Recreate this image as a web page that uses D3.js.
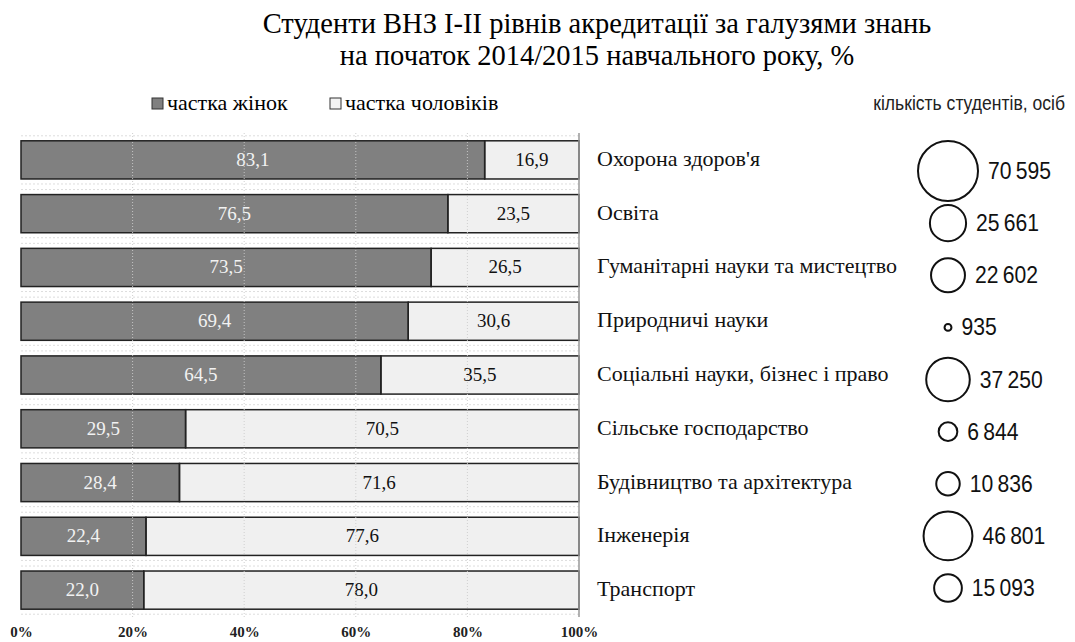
<!DOCTYPE html>
<html>
<head>
<meta charset="utf-8">
<script src="https://cdn.jsdelivr.net/npm/d3@7"></script>
<style>
  body { margin: 0; background: #fff; }
  .serif { font-family: "Liberation Serif", "Times New Roman", serif; }
  .narrow { font-family: "Liberation Sans", Arial, sans-serif; }
</style>
</head>
<body>
<script>
var categories = ["Охорона здоров'я", "Освіта", "Гуманітарні науки та мистецтво",
  "Природничі науки", "Соціальні науки, бізнес і право", "Сільське господарство",
  "Будівництво та архітектура", "Інженерія", "Транспорт"];
var women = [83.1, 76.5, 73.5, 69.4, 64.5, 29.5, 28.4, 22.4, 22.0];
var men = [16.9, 23.5, 26.5, 30.6, 35.5, 70.5, 71.6, 77.6, 78.0];
var students = [70595, 25661, 22602, 935, 37250, 6844, 10836, 46801, 15093];
var ticks = [0, 20, 40, 60, 80, 100];
var titleLines = ["Студенти ВНЗ І-ІІ рівнів акредитації за галузями знань",
  "на початок 2014/2015 навчального року, %"];

var W = 1075, H = 642;
var svg = d3.select("body").append("svg").attr("width", W).attr("height", H);

var x = d3.scaleLinear().domain([0, 100]).range([21, 579]);
var y = d3.scaleBand().domain(categories).range([133, 617]).paddingInner(0.29).paddingOuter(0.145);
// circles sit on their own slightly shifted grid
var yc = d3.scalePoint().domain(categories).range([171, 588]);
var r = d3.scaleSqrt().domain([0, 70595]).range([0, 30]);

var fmt = function(v) { return v.toFixed(1).replace(".", ","); };
var fmtN = function(v) { return d3.format(",")(v).replace(/,/g, "\u2009"); };

// title
svg.selectAll(".title").data(titleLines).enter().append("text")
  .attr("class", "serif")
  .attr("x", 597).attr("y", function(d, i) { return 33 + i * 32; })
  .attr("text-anchor", "middle")
  .style("font-size", "28.5px")
  .text(function(d) { return d; });

// legend
var legend = [{label: "частка жінок", fill: "#808080", x: 152}, {label: "частка чоловіків", fill: "#f2f2f2", x: 330}];
var lg = svg.selectAll(".lg").data(legend).enter().append("g");
lg.append("rect").attr("x", function(d) { return d.x; }).attr("y", 98)
  .attr("width", 11).attr("height", 11)
  .attr("fill", function(d) { return d.fill; }).attr("stroke", "#333").attr("stroke-width", 1);
lg.append("text").attr("class", "serif")
  .attr("x", function(d) { return d.x + 15; }).attr("y", 110)
  .style("font-size", "22px")
  .text(function(d) { return d.label; });

svg.append("g").attr("transform", "translate(1065,110) scale(0.9,1)")
  .append("text").attr("class", "narrow")
  .attr("text-anchor", "end")
  .style("font-size", "19.5px").attr("fill", "#222")
  .text("кількість студентів, осіб");

// horizontal light dashed lines at band edges
var plot = svg.append("g");
categories.forEach(function(c) {
  [y(c) - 5, y(c) + y.bandwidth() + 5].forEach(function(yy) {
    plot.append("line").attr("x1", x(0)).attr("x2", x(100)).attr("y1", yy).attr("y2", yy)
      .attr("stroke", "#ddd").attr("stroke-dasharray", "2,2");
  });
});

// bars
var rows = categories.map(function(c, i) { return {cat: c, w: women[i], m: men[i], n: students[i]}; });
var bar = plot.selectAll(".bar").data(rows).enter().append("g");
bar.append("rect")
  .attr("x", x(0)).attr("y", function(d) { return y(d.cat); })
  .attr("width", function(d) { return x(d.w) - x(0); }).attr("height", y.bandwidth())
  .attr("fill", "#808080");
bar.append("rect")
  .attr("x", function(d) { return x(d.w); }).attr("y", function(d) { return y(d.cat); })
  .attr("width", function(d) { return x(100) - x(d.w); }).attr("height", y.bandwidth())
  .attr("fill", "#f0f0f0");

// vertical gridlines
ticks.slice(1, -1).forEach(function(t) {
  plot.append("line").attr("x1", x(t)).attr("x2", x(t)).attr("y1", 133).attr("y2", 617)
    .attr("stroke", "#ccc").attr("stroke-dasharray", "1,2").attr("opacity", 0.9);
});
plot.append("line").attr("x1", x(100)).attr("x2", x(100)).attr("y1", 133).attr("y2", 617)
  .attr("stroke", "#999").attr("stroke-width", 1.5);

// bar outlines
bar.append("rect")
  .attr("x", x(0)).attr("y", function(d) { return y(d.cat); })
  .attr("width", function(d) { return x(d.w) - x(0); }).attr("height", y.bandwidth())
  .attr("fill", "none").attr("stroke", "#222").attr("stroke-width", 1.5);
bar.append("rect")
  .attr("x", function(d) { return x(d.w); }).attr("y", function(d) { return y(d.cat); })
  .attr("width", function(d) { return x(100) - x(d.w); }).attr("height", y.bandwidth())
  .attr("fill", "none").attr("stroke", "#222").attr("stroke-width", 1.5);

// bar value labels
bar.append("text").attr("class", "serif")
  .attr("x", function(d) { return (x(0) + x(d.w)) / 2; })
  .attr("y", function(d) { return y(d.cat) + y.bandwidth() / 2 + 6; })
  .attr("text-anchor", "middle").style("font-size", "19px").attr("fill", "#f2f2f2")
  .text(function(d) { return fmt(d.w); });
bar.append("text").attr("class", "serif")
  .attr("x", function(d) { return (x(d.w) + x(100)) / 2; })
  .attr("y", function(d) { return y(d.cat) + y.bandwidth() / 2 + 6; })
  .attr("text-anchor", "middle").style("font-size", "19px").attr("fill", "#111")
  .text(function(d) { return fmt(d.m); });

// category labels
bar.append("text").attr("class", "serif")
  .attr("x", 597)
  .attr("y", function(d) { return y(d.cat) + y.bandwidth() / 2 + 6; })
  .style("font-size", "22px").attr("fill", "#111")
  .text(function(d) { return d.cat; });

// x axis
var axis = svg.append("g").attr("transform", "translate(0,617)")
  .call(d3.axisBottom(x).tickValues(ticks).tickSize(0).tickPadding(9)
    .tickFormat(function(d) { return d + "%"; }));
axis.select(".domain").remove();
axis.selectAll("text").attr("class", "serif").style("font-size", "15px").style("font-weight", "bold")
  .attr("fill", "#222");

// circles
var cx = 948;
var bub = svg.selectAll(".bub").data(rows).enter().append("g");
bub.append("circle")
  .attr("cx", cx).attr("cy", function(d) { return yc(d.cat); })
  .attr("r", function(d) { return r(d.n); })
  .attr("fill", "none").attr("stroke", "#111").attr("stroke-width", 2);
bub.append("g")
  .attr("transform", function(d) { return "translate(" + (cx + r(d.n) + 10) + "," + (yc(d.cat) + 8) + ") scale(0.88,1)"; })
  .append("text").attr("class", "narrow")
  .style("font-size", "24px").attr("fill", "#111")
  .text(function(d) { return fmtN(d.n); });
</script>
</body>
</html>
